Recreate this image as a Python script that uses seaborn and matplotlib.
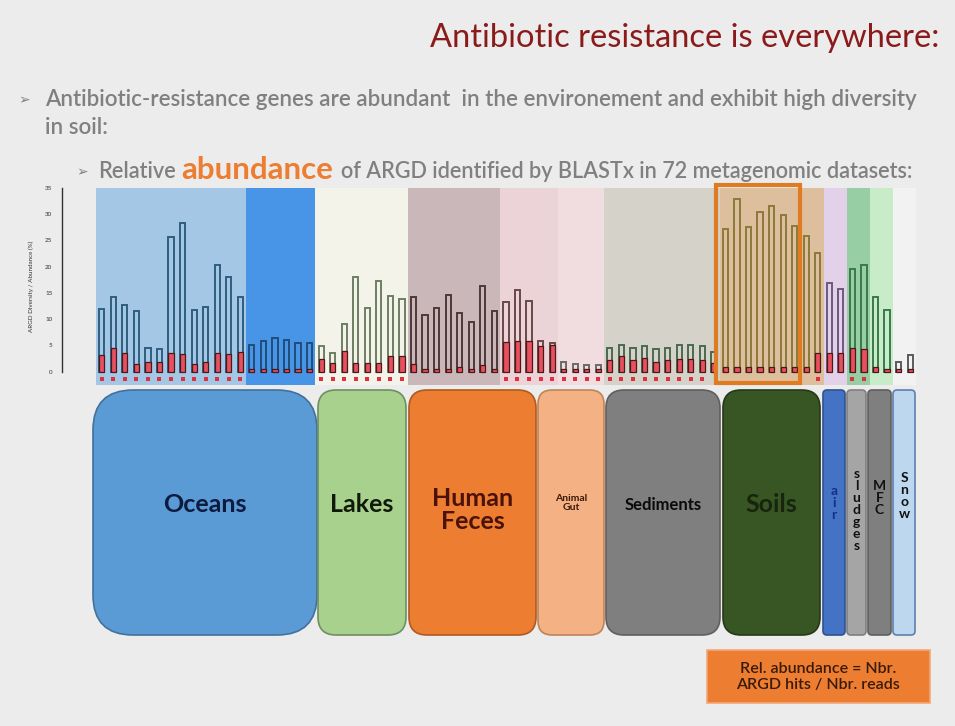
import numpy as np
import pandas as pd
import seaborn as sns
import matplotlib.pyplot as plt
from matplotlib.patches import FancyBboxPatch, Rectangle

# ARGD relative abundance per dataset (outer bar) and the red inner bar
total = [11.9, 14.2, 12.7, 11.6, 4.6, 4.3, 25.6, 28.3, 11.8, 12.3, 20.4, 18.1, 14.2,
         5.1, 5.9, 6.4, 6.0, 5.5, 5.5,
         4.8, 3.5, 9.1, 18.1, 12.2, 17.3, 14.5, 13.8,
         14.2, 10.8, 12.1, 14.6, 11.1, 9.5, 16.4, 11.6,
         13.2, 15.6, 13.5, 5.9, 5.4,
         1.9, 1.5, 1.2, 1.2,
         4.5, 5.0, 4.5, 4.9, 4.3, 4.5, 5.0, 5.0, 4.8, 3.8,
         27.2, 32.9, 27.6, 30.4, 31.6, 29.9, 27.8, 25.8, 22.6,
         16.9, 15.7,
         19.5, 20.4,
         14.2, 11.8,
         1.9, 3.2]
inner = [3.2, 4.5, 3.6, 1.5, 1.9, 1.9, 3.6, 3.3, 1.5, 1.9, 3.6, 3.3, 3.7,
         0.5, 0.5, 0.5, 0.5, 0.5, 0.5,
         2.4, 1.7, 4.0, 1.7, 1.7, 1.7, 3.0, 3.0,
         1.5, 0.5, 0.5, 0.5, 0.8, 0.5, 1.3, 0.5,
         5.6, 5.9, 5.9, 4.8, 5.1,
         0.5, 0.5, 0.5, 0.5,
         2.2, 2.9, 2.2, 2.6, 1.9, 2.2, 2.4, 2.4, 2.2, 1.6,
         0.8, 0.8, 0.8, 0.8, 0.8, 0.8, 0.8, 0.8, 3.6,
         3.6, 3.6,
         4.5, 4.3,
         0.8, 0.5,
         0.5, 0.5]
group_names = ['ocean1', 'ocean2', 'lake', 'feces', 'pink', 'gut', 'sed', 'soil',
               'purple', 'green', 'lgreen', 'white']
group_sizes = [13, 6, 8, 8, 5, 4, 10, 9, 2, 2, 2, 2]
marked = [1]*13 + [0]*6 + [1]*8 + [0]*8 + [1]*5 + [1]*4 + [1]*9 + [0] + [0]*8 + [1] \
         + [0]*2 + [1]*2 + [0]*2 + [0]*2

edge_pal = {'ocean1': '#2E5E7E', 'ocean2': '#1F4E79', 'lake': '#6E7E62', 'feces': '#4E3838',
            'pink': '#6A4848', 'gut': '#6A6A6A', 'sed': '#4A6A4E', 'soil': '#8A7A3A',
            'purple': '#6A5A7E', 'green': '#3A7A4A', 'lgreen': '#3A7A4A', 'white': '#5A5A5A'}
band_cols = [('#9DC3E6', 0.9), ('#3F8FE6', 0.95), ('#F6F4EA', 0.9), ('#C4AEB0', 0.85),
             ('#EBCFD4', 0.85), ('#F2DADE', 0.85), ('#D2D0C6', 0.9), ('#DDBB95', 0.9),
             ('#E2CFEA', 0.9), ('#8FCB9C', 0.9), ('#C4EBC4', 0.9), ('#F4F4F4', 0.8)]

groups = sum([[g]*n for g, n in zip(group_names, group_sizes)], [])
df = pd.DataFrame({'idx': np.arange(len(total)), 'total': total, 'inner': inner,
                   'grp': groups, 'mark': marked})
df['my'] = -1.3

sns.set_style('white')
plt.rcParams['font.family'] = ['Lato', 'DejaVu Sans']

fig = plt.figure(figsize=(9.55, 7.26), dpi=100)
fig.patch.set_facecolor('#ECECEC')

bg = fig.add_axes([0, 0, 1, 1])
bg.set_xlim(0, 955)
bg.set_ylim(726, 0)
bg.axis('off')
bg.patch.set_alpha(0)

# slide text
bg.text(430, 38, 'Antibiotic resistance is everywhere:', fontsize=23.5, color='#8B1A1A',
        va='center', ha='left')
grey = '#808080'
bg.text(18, 100, '➢', fontsize=10, color=grey, va='center', family='DejaVu Sans')
bg.text(45, 100, 'Antibiotic-resistance genes are abundant  in the environement and exhibit high diversity',
        fontsize=16.1, color=grey, va='center', weight='semibold')
bg.text(45, 127, 'in soil:', fontsize=16.1, color=grey, va='center', weight='semibold')
bg.text(76, 172, '➢', fontsize=10, color=grey, va='center', family='DejaVu Sans')
bg.text(98, 172, 'Relative', fontsize=15.7, color=grey, va='center', weight='semibold')
bg.text(181, 170, 'abundance', fontsize=22.5, color='#ED7D31', va='center', weight='bold')
bg.text(341, 172, 'of ARGD identified by BLASTx in 72 metagenomic datasets:',
        fontsize=15.6, color=grey, va='center', weight='semibold')

# environment boxes
boxes = [
    (93, 317, '#5B9BD5', '#41719C', 40, 'Oceans', '#0D1B3E', 18, 505),
    (318, 406, '#A9D18E', '#6F8F5F', 18, 'Lakes', '#111A0A', 18, 505),
    (409, 536, '#ED7D31', '#AE5A21', 18, 'Human\nFeces', '#4A1208', 18, 510),
    (538, 604, '#F4B183', '#C0845A', 14, 'Animal\nGut', '#3A1A0A', 7.5, 503),
    (606, 720, '#7F7F7F', '#5F5F5F', 18, 'Sediments', '#0A0A0A', 12, 505),
    (723, 820, '#375623', '#25391A', 18, 'Soils', '#18240E', 18, 505),
    (823, 845, '#4472C4', '#2F528F', 4, 'a\ni\nr', '#10308A', 10, 503),
    (847, 866, '#A5A5A5', '#7F7F7F', 4, 's\nl\nu\nd\ng\ne\ns', '#111111', 10, 510),
    (868, 891, '#7F7F7F', '#5F5F5F', 4, 'M\nF\nC', '#111111', 10, 498),
    (893, 915, '#BDD7EE', '#5F7FAF', 4, 'S\nn\no\nw', '#111111', 10, 496),
]
for x0, x1, fc, ec, r, label, tc, fs, ty in boxes:
    bg.add_patch(FancyBboxPatch((x0, 390), x1 - x0, 245,
                                boxstyle=f'round,pad=0,rounding_size={r}',
                                facecolor=fc, edgecolor=ec, linewidth=1.2))
    bg.text((x0 + x1) / 2, ty, label, ha='center', va='center', color=tc,
            fontsize=fs, weight='bold', linespacing=1.0)

bg.add_patch(Rectangle((707, 650), 223, 53, facecolor='#ED7D31', edgecolor='#F2A877',
                       linewidth=1.2))
bg.text(818, 677, 'Rel. abundance = Nbr.\nARGD hits / Nbr. reads', ha='center', va='center',
        fontsize=11.5, color='#3A1A0A', weight='semibold', linespacing=1.25)

# bar chart
ax = fig.add_axes([62/955, (726 - 384.8)/726, (918 - 62)/955, (384.8 - 188)/726])
ax.patch.set_alpha(0)

edges = np.cumsum([0] + group_sizes) - 0.5
for (c, a), e0, e1 in zip(band_cols, edges[:-1], edges[1:]):
    ax.axvspan(e0, e1, color=c, alpha=a, lw=0, zorder=0)

sns.barplot(data=df, x='idx', y='total', hue='grp', palette=edge_pal, fill=False,
            width=0.45, dodge=False, legend=False, linewidth=1.4, saturation=1,
            errorbar=None, native_scale=True, ax=ax)
sns.barplot(data=df, x='idx', y='inner', color='#E8505F', edgecolor='#4A1A1A',
            width=0.45, linewidth=0.9, saturation=1, errorbar=None,
            native_scale=True, ax=ax)
sns.scatterplot(data=df[df['mark'] == 1], x='idx', y='my', marker='s', s=7,
                color='#E03040', linewidth=0, ax=ax)

# orange highlight around the soils
ax.add_patch(Rectangle((53.2, -2.2), 7.3, 37.8, facecolor='none', edgecolor='#E07B22',
                       linewidth=3, clip_on=False, zorder=5))

ax.set_xlim(-3.44, 70.68)
ax.set_ylim(-2.5, 35)
ax.set_yticks(range(0, 36, 5))
ax.set_xticks([])
ax.set_xlabel('')
ax.set_ylabel('ARGD Diversity / Abundance (%)', fontsize=4.5, color='#333333', labelpad=8)
ax.tick_params(axis='y', labelsize=4.5, length=3, width=0.8, colors='#333333', pad=4)
ax.spines['left'].set_bounds(0, 35)
ax.spines['left'].set_color('#333333')
ax.spines['left'].set_linewidth(1)
for s in ['top', 'right', 'bottom']:
    ax.spines[s].set_visible(False)

fig.savefig('out.png', dpi=100, facecolor=fig.get_facecolor())
